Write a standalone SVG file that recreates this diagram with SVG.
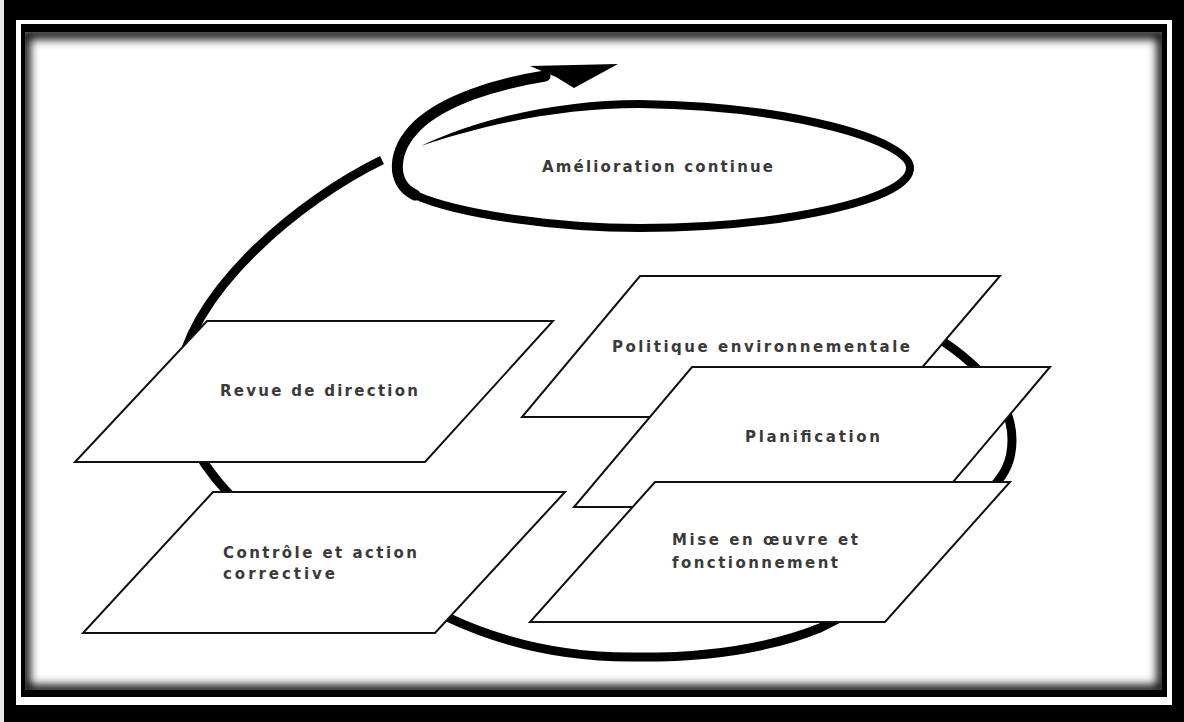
<svg xmlns="http://www.w3.org/2000/svg" width="1184" height="722" viewBox="0 0 1184 722">
<defs>
<style>
.pg{fill:#fff;stroke:#111;stroke-width:2;stroke-linejoin:miter}
.lbl{font-family:"DejaVu Sans","Liberation Sans",sans-serif;font-size:15px;font-weight:bold;fill:#3a3a3a}
.loop{fill:none;stroke:#000;stroke-width:9;stroke-linecap:butt}
.ell{fill:none;stroke:#000;stroke-width:8;stroke-linecap:round}
</style>
<clipPath id="inner"><rect x="25" y="32" width="1137" height="658"/></clipPath>
<filter id="blur" x="-5%" y="-5%" width="110%" height="110%"><feGaussianBlur stdDeviation="5"/></filter>
</defs>
<g id="frame">
<rect width="1184" height="722" fill="#000"/>
<rect x="0" y="0" width="4" height="722" fill="#e8e8e8"/>
<rect x="16" y="20" width="1156" height="685" fill="#fff"/>
<rect x="21" y="24" width="1146" height="673" fill="#000"/>
<rect x="25" y="32" width="1137" height="658" fill="#fff"/>
<g clip-path="url(#inner)"><rect x="25" y="34" width="1137" height="656" fill="none" stroke="#000" stroke-width="10" filter="url(#blur)"/></g>
</g>
<g id="connectors">
<path class="loop" d="M 900,318 C 960,345 1012,390 1012,440 C 1012,462 1004,475 992,488 C 960,525 900,590 820,628 C 760,652 690,658 630,657 C 560,657 500,642 447,617 C 300,580 170,470 178,380 C 190,290 300,200 382,160"/>
</g>
<g id="amelioration">
<path d="M 421,146 C 480,118 560,100 640,100 L 640,108 C 560,108 482,125 421,146 Z" fill="#000"/>
<path class="ell" d="M 640,104 C 790,106 910,140 910,168 C 910,200 780,228 640,228 C 560,228 460,215 415,195"/>
<path d="M 415,195 C 390,183 392,150 418,125 C 445,100 495,84 545,76" fill="none" stroke="#000" stroke-width="11" stroke-linecap="round"/>
<polygon points="530,66 618,64 574,88 556,77" fill="#000"/>
<text class="lbl" x="542" y="172" textLength="231" lengthAdjust="spacing">Amélioration continue</text>
</g>
<g id="revue">
<polygon class="pg" points="207,321 553,321 425,462 75,462"/>
<text class="lbl" x="220" y="396" textLength="198" lengthAdjust="spacing">Revue de direction</text>
</g>
<g id="controle">
<polygon class="pg" points="213,492 565,492 435,633 83,633"/>
<text class="lbl" x="223" y="558" textLength="194" lengthAdjust="spacing">Contrôle et action</text>
<text class="lbl" x="223" y="579" textLength="112" lengthAdjust="spacing">corrective</text>
</g>
<g id="politique">
<polygon class="pg" points="640,276 1000,276 880,417 522,417"/>
<text class="lbl" x="612" y="352" textLength="298" lengthAdjust="spacing">Politique environnementale</text>
</g>
<g id="planification">
<polygon class="pg" points="692,367 1050,367 932,507 574,507"/>
<text class="lbl" x="745" y="442" textLength="135" lengthAdjust="spacing">Planification</text>
</g>
<g id="mise">
<polygon class="pg" points="655,482 1010,482 885,622 530,622"/>
<text class="lbl" x="672" y="545" textLength="186" lengthAdjust="spacing">Mise en œuvre et</text>
<text class="lbl" x="672" y="568" textLength="166" lengthAdjust="spacing">fonctionnement</text>
</g>
</svg>
